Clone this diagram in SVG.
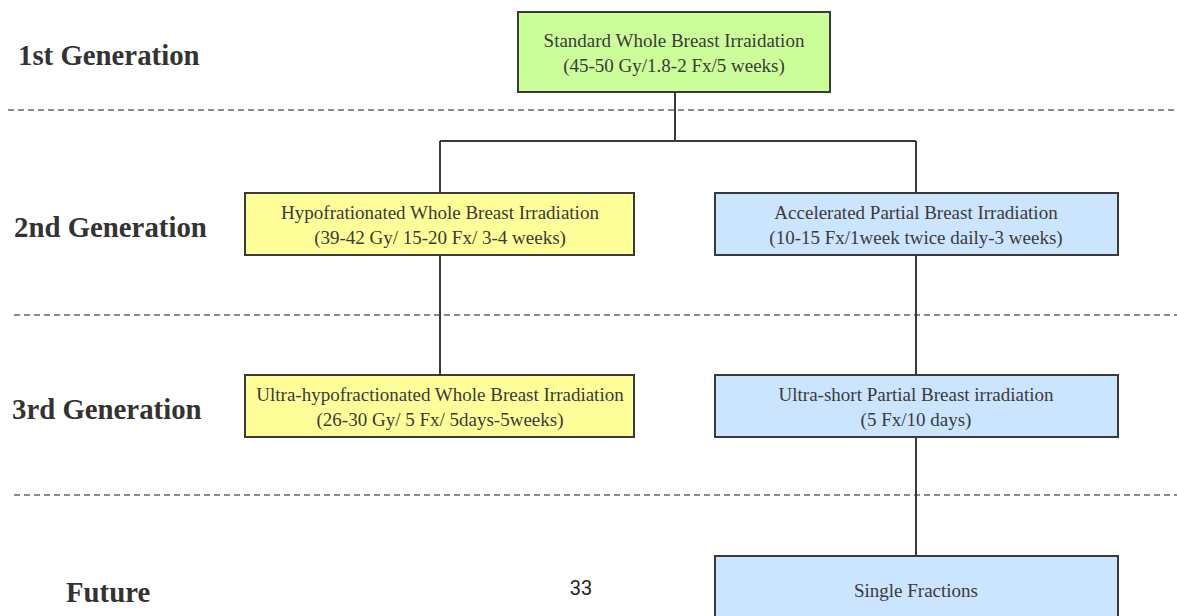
<svg xmlns="http://www.w3.org/2000/svg" width="1177" height="616" viewBox="0 0 1177 616">
<style>
.box{stroke:#3a3a3a;stroke-width:2}
.g{fill:#ccff99}.y{fill:#ffff99}.b{fill:#cce5ff}
.t{font-family:"Liberation Serif",serif;font-size:19px;fill:#3a3a3a;text-anchor:middle}
.lab{font-family:"Liberation Serif",serif;font-size:28.8px;font-weight:bold;fill:#333}
.dash{stroke:#666;stroke-width:1.3;stroke-dasharray:6 4;fill:none}
.conn{stroke:#3a3a3a;stroke-width:2;fill:none}
</style>
<rect width="1177" height="616" fill="#fff"/>
<g id="separators">
<line class="dash" x1="8" y1="110" x2="1177" y2="110"/>
<line class="dash" x1="14" y1="315" x2="1177" y2="315"/>
<line class="dash" x1="14" y1="495" x2="1177" y2="495"/>
</g>
<g id="labels">
<text class="lab" x="18" y="65">1st Generation</text>
<text class="lab" x="14" y="237">2nd Generation</text>
<text class="lab" x="12" y="419">3rd Generation</text>
<text class="lab" x="66" y="602">Future</text>
<text x="581" y="595" font-family="Roboto,sans-serif" font-size="20" fill="#222" text-anchor="middle">33</text>
</g>
<g id="connectors">
<path class="conn" d="M675 92V141M440 141H916M440 141V193M916 141V193M440 255V375M916 255V375M916 437V556"/>
</g>
<g id="standard">
<rect class="box g" x="518" y="12" width="312" height="80"/>
<text class="t" x="674" y="47">Standard Whole Breast Irraidation</text>
<text class="t" x="674" y="72">(45-50 Gy/1.8-2 Fx/5 weeks)</text>
</g>
<g id="hypo">
<rect class="box y" x="245" y="193" width="389" height="62"/>
<text class="t" x="440" y="219">Hypofrationated Whole Breast Irradiation</text>
<text class="t" x="440" y="244">(39-42 Gy/ 15-20 Fx/ 3-4 weeks)</text>
</g>
<g id="apbi">
<rect class="box b" x="715" y="193" width="403" height="62"/>
<text class="t" x="916" y="219">Accelerated Partial Breast Irradiation</text>
<text class="t" x="916" y="244">(10-15 Fx/1week twice daily-3 weeks)</text>
</g>
<g id="ultrahypo">
<rect class="box y" x="245" y="375" width="389" height="62"/>
<text class="t" x="440" y="401">Ultra-hypofractionated Whole Breast Irradiation</text>
<text class="t" x="440" y="426">(26-30 Gy/ 5 Fx/ 5days-5weeks)</text>
</g>
<g id="ultrashort">
<rect class="box b" x="715" y="375" width="403" height="62"/>
<text class="t" x="916" y="401">Ultra-short Partial Breast irradiation</text>
<text class="t" x="916" y="426">(5 Fx/10 days)</text>
</g>
<g id="single">
<rect class="box b" x="715" y="556" width="403" height="70"/>
<text class="t" x="916" y="597">Single Fractions</text>
</g>
</svg>
